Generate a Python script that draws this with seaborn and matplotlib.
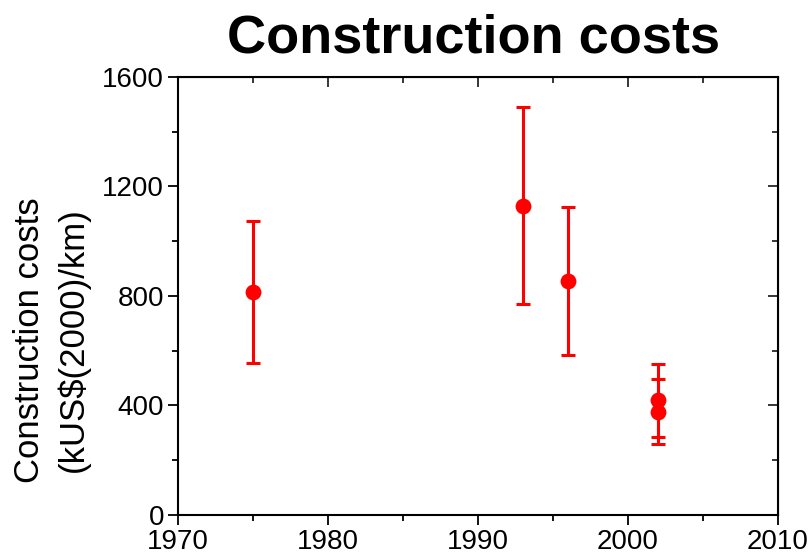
import numpy as np
import pandas as pd
import matplotlib
matplotlib.use("Agg")
import matplotlib.pyplot as plt
import seaborn as sns
from matplotlib.ticker import MultipleLocator

# valori
years = [1975, 1993, 1996, 2002, 2002]
costs = [815, 1128, 854, 420, 376]
err_low = [555, 770, 584, 285, 259]
err_high = [1073, 1489, 1124, 551, 496]


def plot_costs():
    sns.set_style("white")
    plt.rcParams["font.family"] = ["Liberation Sans", "DejaVu Sans"]
    plt.rcParams["text.color"] = "black"
    plt.rcParams["axes.labelcolor"] = "black"

    df = pd.DataFrame({"year": years, "cost": costs})
    yerr = np.array([np.array(costs) - np.array(err_low),
                     np.array(err_high) - np.array(costs)])

    fig = plt.figure(figsize=(8.09, 5.53), dpi=100)
    ax = fig.add_axes([0.22, 0.0687, 0.7417, 0.7923])

    ax.errorbar(years, costs, yerr=yerr, fmt="none", ecolor="red",
                elinewidth=2.2, capsize=5, capthick=2.2)
    sns.scatterplot(data=df, x="year", y="cost", color="red", s=130,
                    edgecolor="red", linewidth=0, ax=ax, zorder=3)

    ax.set_xlim(1970, 2010)
    ax.set_ylim(0, 1600)
    ax.xaxis.set_major_locator(MultipleLocator(10))
    ax.xaxis.set_minor_locator(MultipleLocator(5))
    ax.yaxis.set_major_locator(MultipleLocator(400))
    ax.yaxis.set_minor_locator(MultipleLocator(200))

    for s in ax.spines.values():
        s.set_color("black")
        s.set_linewidth(1.5)

    ax.tick_params(which="both", direction="out", bottom=True, left=True,
                   width=1.3, labelsize=20, colors="black", pad=3)
    ax.tick_params(which="major", length=7)
    ax.tick_params(which="minor", length=4)

    # tick interni sugli assi secondari
    sec_x = ax.secondary_xaxis("top")
    sec_x.xaxis.set_major_locator(MultipleLocator(10))
    sec_x.xaxis.set_minor_locator(MultipleLocator(5))
    sec_x.tick_params(which="both", direction="in", labeltop=False, width=1.3)
    sec_x.tick_params(which="major", length=7)
    sec_x.tick_params(which="minor", length=4)
    sec_y = ax.secondary_yaxis("right")
    sec_y.yaxis.set_major_locator(MultipleLocator(400))
    sec_y.yaxis.set_minor_locator(MultipleLocator(200))
    sec_y.tick_params(which="both", direction="in", labelright=False, width=1.3)
    sec_y.tick_params(which="major", length=7)
    sec_y.tick_params(which="minor", length=4)

    ax.set_xlabel("")
    ax.set_ylabel("Construction costs\n(kUS$(2000)/km)", fontsize=25,
                  linespacing=1.38)
    ax.yaxis.set_label_coords(-0.147, 0.40)
    fig.text(0.585, 0.93, "Construction costs", ha="center", va="center",
             fontsize=39, fontweight="bold")

    fig.savefig("out.png", dpi=100)


plot_costs()
